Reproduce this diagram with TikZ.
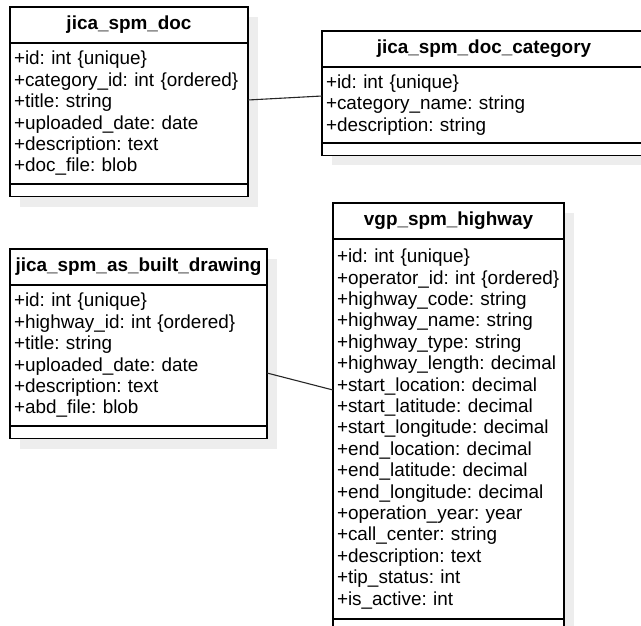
\documentclass[tikz,border=0pt]{standalone}
\usepackage{fontspec}
\setmainfont{Liberation Sans}
\usepackage{tikz}
\usetikzlibrary{positioning, shadows}
\newcommand{\attrfont}{\frenchspacing\hyphenpenalty10000\relax\fontsize{18.9}{21.4}\selectfont}

\begin{document}
\begin{tikzpicture}[
    x=1pt, y=1pt,
    cls/.style={draw, line width=1.1pt, fill=white, outer sep=0pt,
                drop shadow={shadow xshift=10pt, shadow yshift=-10pt, fill=black!7, opacity=1}},
    head/.style={cls, minimum height=36pt, inner sep=0pt, font=\bfseries\fontsize{18.9}{21.5}\selectfont},
    attrs/.style={cls, align=left, inner xsep=4pt, inner ysep=0pt, font=\attrfont},
    ops/.style={cls, minimum height=12.5pt, inner sep=0pt},
    link/.style={line width=1.1pt, draw=black!85}
]
\useasboundingbox (0,0) rectangle (641,-626);

% jica_spm_doc
\node[head, anchor=north west, minimum width=238pt] (doc) at (10,-7) {jica\_spm\_doc};
\node[attrs, below=0pt of doc, minimum width=238pt, text width=230pt, minimum height=141pt] (docA)
    {+id: int \{unique\}\\
     +category\_id: int \{ordered\}\\
     +title: string\\
     +uploaded\_date: date\\
     +description: text\\
     +doc\_file: blob};
\node[ops, below=0pt of docA, minimum width=238pt] (docO) {};

% jica_spm_doc_category
\node[head, anchor=north west, minimum width=324pt] (cat) at (322,-31) {jica\_spm\_doc\_category};
\node[attrs, below=0pt of cat, minimum width=324pt, text width=316pt, minimum height=76pt] (catA)
    {+id: int \{unique\}\\
     +category\_name: string\\
     +description: string};
\node[ops, below=0pt of catA, minimum width=324pt] (catO) {};

% jica_spm_as_built_drawing
\node[head, anchor=north west, minimum width=257pt] (abd) at (10,-249) {jica\_spm\_as\_built\_drawing};
\node[attrs, below=0pt of abd, minimum width=257pt, text width=249pt, minimum height=141pt] (abdA)
    {+id: int \{unique\}\\
     +highway\_id: int \{ordered\}\\
     +title: string\\
     +uploaded\_date: date\\
     +description: text\\
     +abd\_file: blob};
\node[ops, below=0pt of abdA, minimum width=257pt] (abdO) {};

% vgp_spm_highway
\node[head, anchor=north west, minimum width=231pt] (hw) at (333,-203) {vgp\_spm\_highway};
\node[attrs, below=0pt of hw, minimum width=231pt, text width=223pt, minimum height=380pt] (hwA)
    {+id: int \{unique\}\\
     +operator\_id: int \{ordered\}\\
     +highway\_code: string\\
     +highway\_name: string\\
     +highway\_type: string\\
     +highway\_length: decimal\\
     +start\_location: decimal\\
     +start\_latitude: decimal\\
     +start\_longitude: decimal\\
     +end\_location: decimal\\
     +end\_latitude: decimal\\
     +end\_longitude: decimal\\
     +operation\_year: year\\
     +call\_center: string\\
     +description: text\\
     +tip\_status: int\\
     +is\_active: int};
\node[ops, below=0pt of hwA, minimum width=231pt] (hwO) {};

\draw[link] ([yshift=13.5pt]docA.east) -- ([yshift=9pt]catA.west);
\draw[link] ([yshift=-17.5pt]abdA.east) -- ([yshift=39pt]hwA.west);
\end{tikzpicture}
\end{document}
